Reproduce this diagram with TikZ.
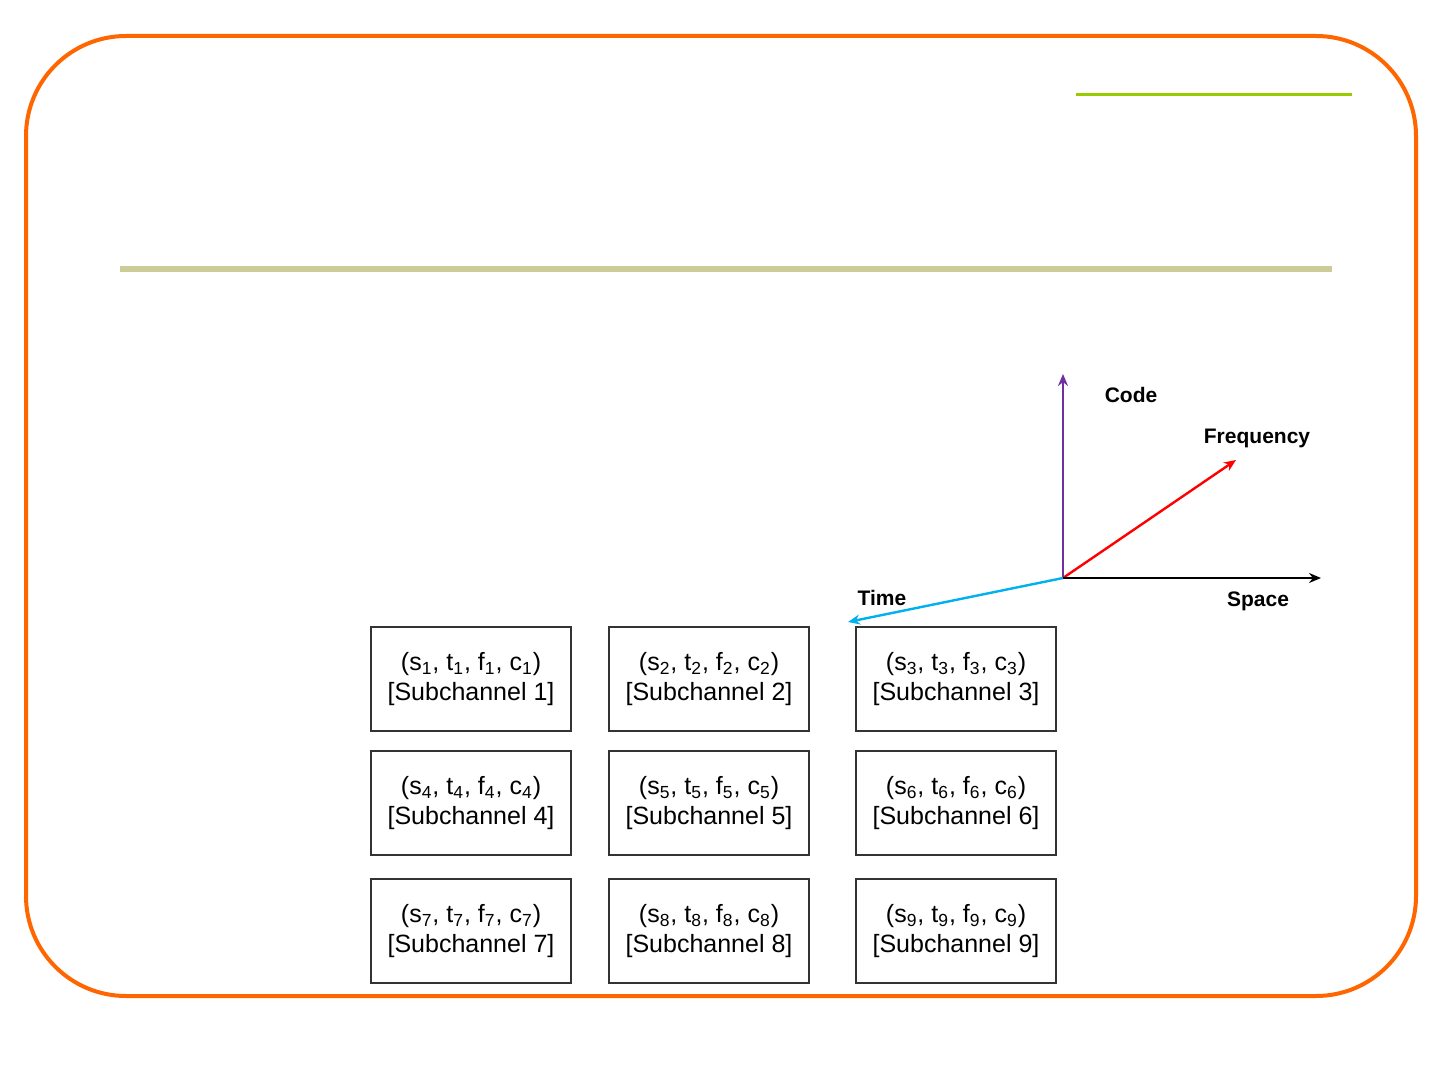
\documentclass[tikz,border=0pt]{standalone}
\usepackage{fontspec}
\setmainfont{Liberation Sans}
\usetikzlibrary{arrows.meta}
\definecolor{frameorange}{RGB}{255,102,0}
\definecolor{limegreen}{RGB}{153,204,0}
\definecolor{olive}{RGB}{204,204,153}
\definecolor{axpurple}{RGB}{112,48,160}
\definecolor{axcyan}{RGB}{0,176,240}
\newcommand{\subidx}[1]{\textsubscript{#1}}
\begin{document}
\begin{tikzpicture}[x=0.5pt,y=-0.5pt,
  subbox/.style={draw=black!80, line width=1pt, minimum width=100pt, minimum height=52pt, inner sep=0pt, align=center, font=\fontsize{12.5}{15}\selectfont},
  axlabel/.style={font=\bfseries\fontsize{10.5}{12}\selectfont, inner sep=0pt},
  axarrow/.style={line width=1.2pt, -{Stealth[length=6pt,width=5pt]}}]
\useasboundingbox (0,0) rectangle (1440,1080);
\draw[frameorange, line width=2pt, rounded corners=50pt] (26,36) rectangle (1416,996);
\draw[limegreen, line width=1.5pt] (1076,95) -- (1352,95);
\draw[olive, line width=3pt] (120,269) -- (1332,269);
% boxes
\node[subbox] (b1) at (471,679) {(s\subidx{1}, t\subidx{1}, f\subidx{1}, c\subidx{1})\\{[Subchannel 1]}};
\node[subbox] (b2) at (709,679) {(s\subidx{2}, t\subidx{2}, f\subidx{2}, c\subidx{2})\\{[Subchannel 2]}};
\node[subbox] (b3) at (956,679) {(s\subidx{3}, t\subidx{3}, f\subidx{3}, c\subidx{3})\\{[Subchannel 3]}};
\node[subbox] (b4) at (471,803) {(s\subidx{4}, t\subidx{4}, f\subidx{4}, c\subidx{4})\\{[Subchannel 4]}};
\node[subbox] (b5) at (709,803) {(s\subidx{5}, t\subidx{5}, f\subidx{5}, c\subidx{5})\\{[Subchannel 5]}};
\node[subbox] (b6) at (956,803) {(s\subidx{6}, t\subidx{6}, f\subidx{6}, c\subidx{6})\\{[Subchannel 6]}};
\node[subbox] (b7) at (471,931) {(s\subidx{7}, t\subidx{7}, f\subidx{7}, c\subidx{7})\\{[Subchannel 7]}};
\node[subbox] (b8) at (709,931) {(s\subidx{8}, t\subidx{8}, f\subidx{8}, c\subidx{8})\\{[Subchannel 8]}};
\node[subbox] (b9) at (956,931) {(s\subidx{9}, t\subidx{9}, f\subidx{9}, c\subidx{9})\\{[Subchannel 9]}};
% axes
\coordinate (o) at (1063,578);
\coordinate (codeEnd) at (1063,374);
\coordinate (freqEnd) at (1236,460);
\coordinate (spaceEnd) at (1321,578);
\coordinate (timeEnd) at (848,622);
\draw[axarrow, axpurple] (o) -- (codeEnd);
\draw[axarrow, red] (o) -- (freqEnd);
\draw[axarrow, black] (o) -- (spaceEnd);
\draw[axarrow, axcyan] (o) -- (timeEnd);
\node[axlabel] (lcode) at (1131,395) {Code};
\node[axlabel] (lfreq) at (1257,438) {Frequency};
\node[axlabel] (lspace) at (1258,601) {Space};
\node[axlabel] (ltime) at (882,598) {Time};
\end{tikzpicture}
\end{document}
